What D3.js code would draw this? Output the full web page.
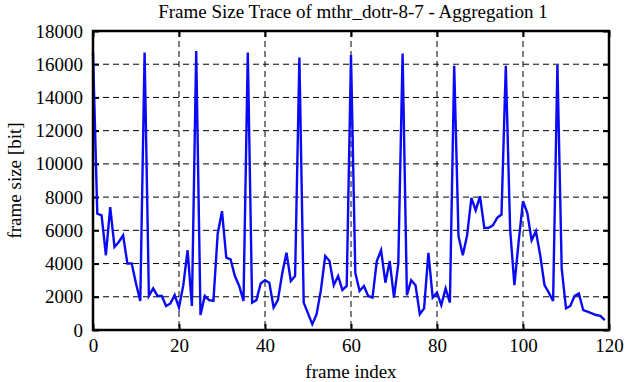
<!DOCTYPE html>
<html><head><meta charset="utf-8">
<script src="https://cdn.jsdelivr.net/npm/d3@7"></script>
<style>
html,body{margin:0;padding:0;background:#fff;}
svg text{font-family:"Liberation Serif","DejaVu Serif",serif !important;fill:#000;}
</style></head>
<body><svg id="chart" width="626" height="382"></svg>
<script>
const title = "Frame Size Trace of mthr_dotr-8-7 - Aggregation 1";
const xLabel = "frame index";
const yLabel = "frame size [bit]";
const xTicks = [0,20,40,60,80,100,120];
const yTicks = [0,2000,4000,6000,8000,10000,12000,14000,16000,18000];
const frameSizes = [
 16700,7000,6900,4500,7400,5000,5300,5700,4000,4000,
 2800,1750,16700,2050,2500,2050,2050,1450,1600,2100,
 1350,2700,4800,1450,16800,900,2050,1800,1750,5800,
 7150,4350,4250,3250,2650,1750,16700,1650,1800,2800,
 3000,2850,1350,1800,3400,4650,2950,3250,16400,1650,
 1000,350,950,2400,4450,4150,2700,3250,2400,2650,
 16550,3450,2350,2650,2050,1950,4150,4800,2850,4150,
 1950,4000,16650,2100,3000,2700,950,1300,4650,1950,
 2250,1500,2500,1650,15900,5650,4500,5700,7950,7200,
 8050,6150,6150,6300,6750,6950,15900,6100,2700,5350,
 7750,7050,5400,5950,4500,2700,2250,1750,15950,3700,
 1300,1450,2050,2200,1200,1100,1000,900,850,600
];
const frames = frameSizes.map((v,i)=>i);

const svg = d3.select("#chart");
const L=93, R=609, T=31, B=330;
const x = d3.scaleLinear().domain([0,120]).range([L,R]);
const y = d3.scaleLinear().domain([0,18000]).range([B,T]);

const g = svg.append("g");
g.selectAll("line.vg").data(xTicks.slice(1,-1)).enter().append("line")
 .attr("x1",d=>x(d)).attr("x2",d=>x(d)).attr("y1",T).attr("y2",B)
 .attr("stroke","#000").attr("stroke-width",1).attr("stroke-dasharray","6,4");
g.selectAll("line.hg").data(yTicks.slice(1,-1)).enter().append("line")
 .attr("x1",L).attr("x2",R).attr("y1",d=>y(d)).attr("y2",d=>y(d))
 .attr("stroke","#000").attr("stroke-width",1).attr("stroke-dasharray","6,4");

const fs = 19;
const ff = "Liberation Serif, serif";
const xAx = svg.append("g").attr("transform",`translate(0,${B})`)
 .call(d3.axisBottom(x).tickValues(xTicks).tickSize(-6).tickPadding(9).tickFormat(d3.format("d")));
const xAxT = svg.append("g").attr("transform",`translate(0,${T})`)
 .call(d3.axisTop(x).tickValues(xTicks).tickSize(-6).tickFormat(""));
const yAx = svg.append("g").attr("transform",`translate(${L},0)`)
 .call(d3.axisLeft(y).tickValues(yTicks).tickSize(-6).tickPadding(10).tickFormat(d3.format("d")));
const yAxR = svg.append("g").attr("transform",`translate(${R},0)`)
 .call(d3.axisRight(y).tickValues(yTicks).tickSize(-6).tickFormat(""));
[xAx,xAxT,yAx,yAxR].forEach(a=>{
  a.attr("font-family",ff).attr("font-size",fs);
  a.select(".domain").remove();
  a.selectAll(".tick line").attr("stroke","#000").attr("stroke-width",2);
  a.selectAll(".tick text").attr("fill","#000");
});

svg.append("path").datum(frameSizes)
 .attr("fill","none").attr("stroke","#0a0af5").attr("stroke-width",2.4)
 .attr("d",d3.line().x((d,i)=>x(frames[i])).y(d=>y(d)));

svg.append("rect").attr("x",L).attr("y",T).attr("width",R-L).attr("height",B-T)
 .attr("fill","none").attr("stroke","#000").attr("stroke-width",2.5);

svg.append("text").attr("x",353).attr("y",18).attr("text-anchor","middle")
 .attr("font-size",fs).text(title);
svg.append("text").attr("x",(L+R)/2).attr("y",378).attr("text-anchor","middle")
 .attr("font-size",fs).text(xLabel);
svg.append("text").attr("transform",`translate(21,${(T+B)/2}) rotate(-90)`)
 .attr("text-anchor","middle").attr("font-size",fs).text(yLabel);
</script></body></html>
